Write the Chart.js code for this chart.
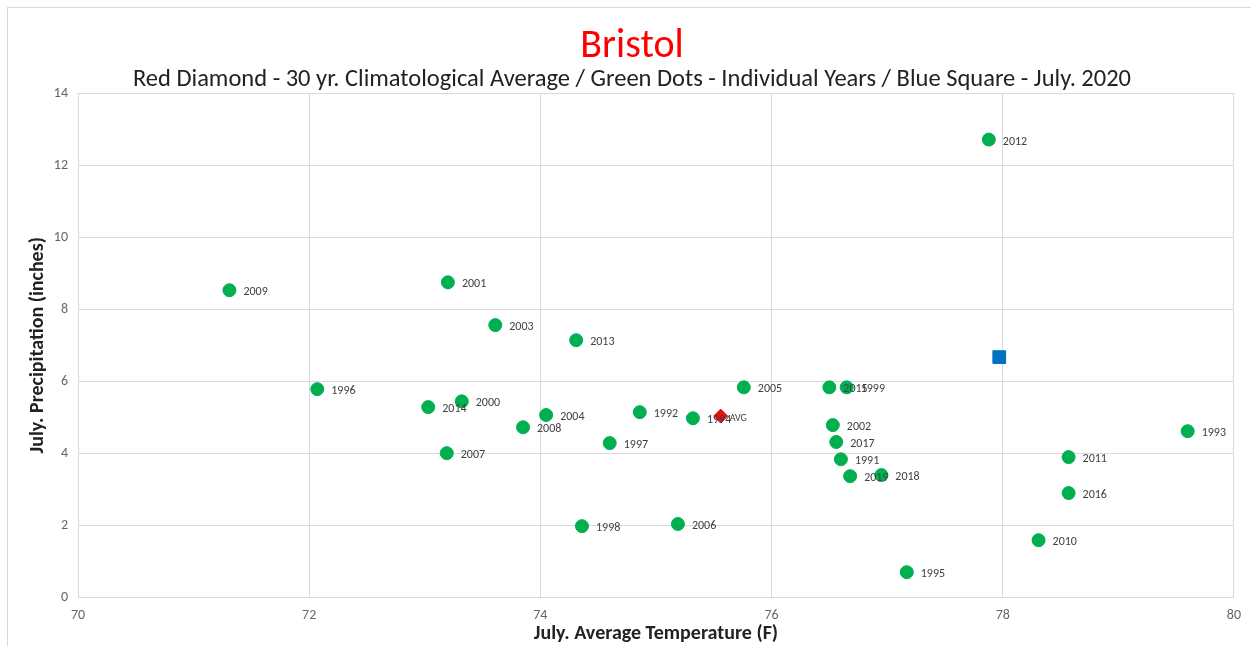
<!DOCTYPE html>
<html>
<head>
<meta charset="utf-8">
<script src="https://cdn.jsdelivr.net/npm/chart.js@4"></script>
<style>
    body { margin: 0; background: #fff; }
    #frame { position: absolute; left: 7px; top: 7px; width: 1260px; height: 660px;
             border-left: 1px solid #d9d9d9; border-top: 1px solid #d9d9d9; }
    #wrap { position: absolute; left: 0; top: 0; width: 1251px; height: 646px; }
</style>
</head>
<body>
<div id="frame"></div>
<div id="wrap"><canvas id="chart" width="1251" height="646"></canvas></div>
<script>
const years = [1991, 1992, 1993, 1994, 1995, 1996, 1997, 1998, 1999, 2000,
               2001, 2002, 2003, 2004, 2005, 2006, 2007, 2008, 2009, 2010,
               2011, 2012, 2013, 2014, 2015, 2016, 2017, 2018, 2019];
const temps = [76.60, 74.86, 79.60, 75.32, 77.17, 72.07, 74.60, 74.36, 76.65, 73.32,
               73.20, 76.53, 73.61, 74.05, 75.76, 75.19, 73.19, 73.85, 71.31, 78.31,
               78.57, 77.88, 74.31, 73.03, 76.50, 78.57, 76.56, 76.95, 76.68];
const precip = [3.83, 5.14, 4.61, 4.97, 0.69, 5.78, 4.28, 1.97, 5.83, 5.44,
                8.75, 4.78, 7.56, 5.06, 5.83, 2.03, 4.00, 4.72, 8.53, 1.58,
                3.89, 12.72, 7.14, 5.28, 5.83, 2.89, 4.31, 3.39, 3.36];
const avgTemp = 75.56, avgPrecip = 5.03;
const july2020Temp = 77.97, july2020Precip = 6.67;
const xTicks = [70, 72, 74, 76, 78, 80];
const yTicks = [0, 2, 4, 6, 8, 10, 12, 14];

const font = "Carlito, Lato, 'Open Sans', sans-serif";

// year labels to the right of each point
const pointLabels = {
    id: 'pointLabels',
    afterDatasetsDraw(chart) {
        const ctx = chart.ctx;
        ctx.save();
        ctx.fillStyle = '#404040';
        ctx.textBaseline = 'middle';
        chart.data.datasets.forEach((ds, i) => {
            if (!ds.labels) return;
            ctx.font = ds.labelFont;
            chart.getDatasetMeta(i).data.forEach((pt, j) => {
                ctx.fillText(ds.labels[j], pt.x + ds.labelOffset, pt.y + 2);
            });
        });
        ctx.restore();
    }
};

new Chart(document.getElementById('chart'), {
    type: 'scatter',
    data: {
        datasets: [{
            label: 'AVG',
            data: [{x: avgTemp, y: avgPrecip}],
            pointStyle: 'rectRot',
            pointRadius: 7,
            backgroundColor: '#e81010',
            borderColor: '#e81010',
            labels: ['AVG'],
            labelFont: "10px " + font,
            labelOffset: 9
        }, {
            label: 'July 2020',
            data: [{x: july2020Temp, y: july2020Precip}],
            pointStyle: 'rect',
            pointRadius: 9,
            backgroundColor: '#0070c0',
            borderColor: '#0070c0'
        }, {
            label: 'Years',
            data: temps.map((t, i) => ({x: t, y: precip[i]})),
            pointRadius: 6.5,
            backgroundColor: '#00b050',
            borderColor: '#00b050',
            labels: years.map(String),
            labelFont: "12px " + font,
            labelOffset: 14
        }]
    },
    options: {
        responsive: false,
        animation: false,
        layout: { padding: { left: 30, right: 17, top: 0, bottom: 0 } },
        plugins: {
            legend: { display: false },
            tooltip: { enabled: false },
            title: {
                display: true,
                text: 'Bristol',
                color: '#ff0000',
                font: { family: font, size: 40, weight: 'normal', lineHeight: 1.0 },
                padding: { top: 27, bottom: 1 }
            },
            subtitle: {
                display: true,
                text: 'Red Diamond - 30 yr. Climatological Average / Green Dots - Individual Years / Blue Square - July. 2020',
                color: '#222',
                font: { family: font, size: 24.5, weight: 'normal', lineHeight: 1.0 },
                padding: { top: 0, bottom: 1 }
            }
        },
        scales: {
            x: {
                type: 'linear',
                min: 70, max: 80,
                afterBuildTicks: s => { s.ticks = xTicks.map(v => ({value: v})); },
                afterFit: s => { s.height = 49; },
                grid: { color: '#d9d9d9', drawTicks: false },
                border: { color: '#d9d9d9' },
                ticks: { color: '#666', font: { family: font, size: 14 }, padding: 10 },
                title: {
                    display: true,
                    text: 'July. Average Temperature (F)',
                    color: '#222',
                    font: { family: font, size: 20, weight: 'bold' },
                    padding: { top: 0, bottom: 0 }
                }
            },
            y: {
                type: 'linear',
                min: 0, max: 14,
                afterBuildTicks: s => { s.ticks = yTicks.map(v => ({value: v})); },
                afterFit: s => { s.width = 48; },
                grid: { color: '#d9d9d9', drawTicks: false },
                border: { color: '#d9d9d9' },
                ticks: { color: '#666', font: { family: font, size: 14 }, padding: 10 },
                title: {
                    display: true,
                    text: 'July. Precipitation (inches)',
                    color: '#222',
                    font: { family: font, size: 20, weight: 'bold', lineHeight: 0.8 },
                    padding: { top: 0, bottom: 0 }
                }
            }
        }
    },
    plugins: [pointLabels]
});
</script>
</body>
</html>
